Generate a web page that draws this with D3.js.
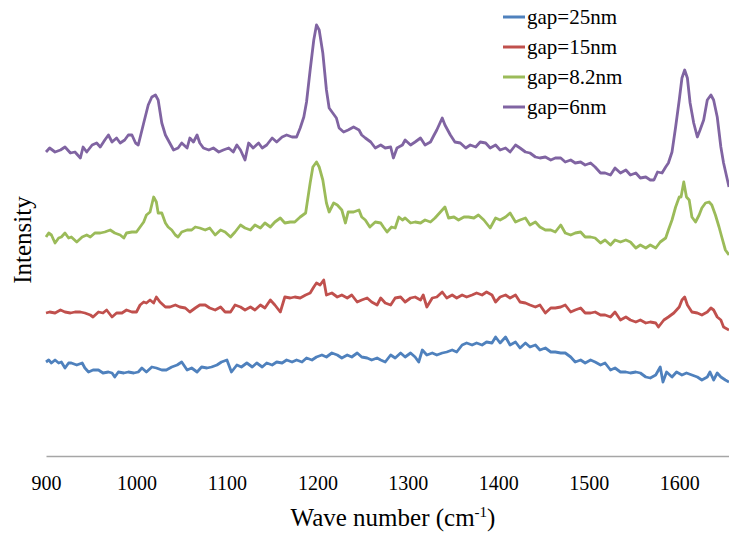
<!DOCTYPE html>
<html lang="en">
<head>
  <meta charset="UTF-8">
  <script src="https://d3js.org/d3.v7.min.js"></script>
  <title>Spectra by gap</title>
  <style>
    body { margin: 0; background: white; }
    text { font-family: "Liberation Serif", "Times New Roman", serif; fill: #000; }
  </style>
</head>
<body>
  <div id="chart"></div>
<script>
  // wave numbers (cm-1) and intensities, one pair of arrays per curve
  var waveBlue = [900, 903, 906, 910, 914, 917, 921, 925, 928, 934, 940, 943, 947, 952, 958, 963, 969, 973, 976, 980, 986, 991, 997, 1002, 1006, 1011, 1017, 1022, 1028, 1033, 1039, 1045, 1050, 1056, 1061, 1067, 1072, 1078, 1083, 1089, 1094, 1100, 1105, 1111, 1116, 1122, 1128, 1133, 1139, 1144, 1150, 1155, 1161, 1166, 1172, 1177, 1183, 1188, 1194, 1199, 1205, 1210, 1216, 1222, 1227, 1233, 1238, 1244, 1249, 1255, 1260, 1266,
    1270, 1275, 1281, 1286, 1292, 1297, 1303, 1308, 1312, 1316, 1321, 1327, 1332, 1338, 1343, 1349, 1354, 1360, 1365, 1371, 1376, 1382, 1387, 1393, 1397, 1402, 1408, 1413, 1419, 1424, 1430, 1435, 1441, 1446, 1452, 1458, 1463, 1469, 1474, 1480, 1485, 1491, 1496, 1502, 1507, 1513, 1518, 1524, 1529, 1535, 1541, 1546, 1552, 1557, 1563, 1568, 1574, 1579, 1582, 1586, 1592, 1597, 1603, 1608, 1614, 1620, 1625, 1631, 1634, 1638, 1642, 1646, 1651, 1655];
  var valBlue = [94, 96, 93, 96, 93, 94, 88, 93, 93, 91, 93, 88, 84, 86, 86, 83, 84, 83, 79, 84, 83, 84, 83, 84, 88, 84, 89, 88, 86, 86, 89, 91, 94, 86, 88, 84, 89, 88, 89, 91, 94, 96, 84, 91, 89, 93, 89, 93, 89, 93, 91, 94, 93, 96, 94, 96, 94, 98, 96, 99, 101, 99, 103, 101, 98, 101, 99, 103, 99, 98, 96, 98,
    96, 94, 101, 98, 103, 99, 103, 99, 94, 106, 101, 103, 101, 103, 104, 106, 104, 111, 113, 111, 113, 111, 114, 113, 119, 113, 119, 111, 114, 108, 113, 109, 111, 106, 108, 104, 104, 103, 103, 99, 94, 96, 93, 96, 94, 91, 93, 86, 88, 84, 84, 83, 84, 83, 79, 78, 81, 89, 74, 84, 79, 84, 81, 83, 81, 79, 76, 79, 84, 76, 83, 79, 76, 74];

  var waveRed = [900, 904, 910, 916, 921, 927, 932, 938, 943, 949, 952, 958, 963, 967, 973, 978, 984, 989, 995, 1000, 1004, 1008, 1011, 1015, 1019, 1022, 1026, 1032, 1037, 1043, 1048, 1054, 1059, 1065, 1070, 1076, 1081, 1087, 1093, 1098, 1104, 1109, 1115, 1120, 1126, 1131, 1137, 1142, 1148, 1153, 1159, 1164, 1170, 1175, 1181, 1187, 1192, 1196, 1199, 1203, 1207, 1210, 1216, 1222, 1227, 1233, 1238, 1244, 1249, 1255, 1260, 1266,
    1270, 1275, 1281, 1286, 1292, 1297, 1303, 1308, 1314, 1317, 1321, 1327, 1332, 1338, 1343, 1349, 1354, 1360, 1365, 1371, 1376, 1382, 1387, 1393, 1397, 1402, 1408, 1413, 1419, 1424, 1430, 1435, 1441, 1446, 1452, 1458, 1463, 1469, 1474, 1480, 1485, 1491, 1496, 1502, 1507, 1513, 1518, 1524, 1529, 1535, 1541, 1546, 1552, 1557, 1563, 1568, 1574, 1577, 1583, 1588, 1594, 1600, 1603, 1606, 1609, 1614, 1620, 1625, 1631, 1635, 1638, 1642, 1646, 1649, 1655];
  var valRed = [143, 144, 143, 146, 144, 143, 144, 144, 143, 141, 139, 144, 143, 146, 139, 143, 143, 146, 144, 144, 151, 154, 153, 156, 153, 159, 154, 149, 149, 151, 149, 148, 144, 148, 151, 151, 148, 146, 149, 144, 144, 151, 149, 146, 149, 146, 151, 148, 156, 151, 144, 159, 158, 159, 158, 161, 163, 169, 173, 171, 176, 161, 163, 159, 161, 158, 161, 154, 156, 158, 154, 151,
    158, 153, 151, 158, 159, 154, 158, 159, 156, 161, 149, 158, 159, 164, 158, 161, 158, 161, 159, 161, 163, 161, 164, 161, 154, 159, 161, 158, 161, 154, 153, 151, 149, 151, 143, 148, 148, 149, 151, 144, 146, 148, 143, 143, 144, 141, 141, 139, 144, 136, 139, 136, 134, 136, 133, 134, 133, 129, 136, 139, 143, 149, 156, 159, 151, 144, 143, 141, 144, 148, 146, 139, 136, 129, 126];

  var waveGreen = [900, 903, 906, 910, 914, 917, 921, 925, 928, 934, 940, 945, 949, 954, 960, 965, 971, 976, 982, 986, 989, 995, 1000, 1004, 1008, 1011, 1015, 1019, 1022, 1024, 1028, 1032, 1035, 1039, 1043, 1046, 1050, 1056, 1061, 1065, 1070, 1076, 1081, 1087, 1093, 1098, 1104, 1109, 1115, 1120, 1126, 1131, 1137, 1142, 1148, 1153, 1159, 1164, 1170, 1175, 1181, 1187,
    1188, 1192, 1195, 1199, 1202, 1206, 1210, 1213, 1218, 1222, 1227, 1231, 1234, 1240, 1246, 1249, 1253, 1258, 1264,
    1270, 1273, 1277, 1282, 1286, 1290, 1294, 1297, 1303, 1308, 1314, 1319, 1325, 1330, 1336, 1341, 1345, 1351, 1356, 1362, 1367, 1373, 1378, 1384, 1391, 1397, 1402, 1408, 1413, 1419, 1424, 1430, 1435, 1441, 1446, 1452, 1458, 1463, 1469, 1474, 1480, 1485, 1491, 1496, 1502, 1507, 1513, 1518, 1524, 1529, 1535, 1541, 1546, 1552, 1557, 1563, 1568, 1574, 1579, 1585, 1588, 1592, 1596, 1600, 1602, 1605, 1608, 1611, 1614, 1618, 1622, 1625, 1629, 1633, 1636, 1640, 1644, 1647, 1651, 1655];
  var valGreen = [219, 223, 221, 213, 218, 219, 223, 218, 219, 214, 219, 221, 219, 223, 223, 224, 226, 223, 221, 218, 223, 224, 224, 229, 234, 241, 244, 259, 254, 243, 243, 233, 229, 226, 221, 219, 224, 226, 226, 229, 228, 226, 228, 221, 226, 224, 219, 224, 231, 228, 226, 231, 228, 233, 229, 234, 238, 233, 234, 234, 239, 243,
    249, 273, 289, 294, 289, 276, 253, 244, 253, 251, 246, 233, 244, 244, 246, 239, 236, 229, 234,
    233, 229, 224, 229, 228, 239, 236, 238, 233, 234, 233, 236, 234, 238, 244, 249, 238, 239, 236, 239, 239, 238, 241, 236, 228, 238, 236, 239, 243, 234, 236, 238, 231, 234, 229, 226, 226, 224, 231, 223, 221, 223, 224, 219, 219, 218, 213, 216, 211, 216, 214, 216, 214, 208, 211, 208, 211, 208, 214, 218, 226, 236, 249, 259, 259, 274, 259, 256, 239, 234, 241, 248, 253, 254, 251, 241, 229, 219, 206, 201];

  var wavePurple = [900, 904, 910, 916, 921, 927, 932, 938, 941, 945, 951, 956, 960, 965, 969, 973, 978, 982, 987, 991, 995, 999, 1002, 1008, 1013, 1017, 1021, 1024, 1028, 1032, 1035, 1041, 1046, 1050, 1056, 1059, 1063, 1067, 1070, 1074, 1080, 1085, 1091, 1096, 1102, 1107, 1111, 1115, 1120, 1124, 1129, 1135, 1139, 1144, 1150, 1155, 1161, 1166, 1172, 1177, 1181, 1185, 1188, 1192, 1196, 1199, 1202, 1206, 1210, 1213, 1217, 1221, 1224, 1229, 1234, 1240, 1246, 1249, 1253, 1259, 1264,
    1270, 1275, 1281, 1284, 1288, 1294, 1297, 1303, 1308, 1314, 1319, 1325, 1329, 1332, 1338, 1341, 1347, 1352, 1358, 1364, 1369, 1375, 1380, 1386, 1391, 1397, 1402, 1408, 1413, 1419, 1424, 1430, 1435, 1441, 1446, 1452, 1458, 1463, 1469, 1474, 1480, 1485, 1491, 1496, 1502, 1507, 1513, 1518, 1524, 1529, 1535, 1541, 1546, 1552, 1557, 1563, 1568, 1572, 1576, 1581, 1585, 1588, 1592, 1596, 1600, 1603, 1606, 1609, 1612, 1616, 1620, 1623, 1627, 1631, 1635, 1638, 1642, 1646, 1649, 1655];
  var valPurple = [304, 308, 304, 306, 309, 303, 304, 298, 309, 304, 311, 313, 309, 316, 321, 314, 318, 313, 316, 321, 321, 313, 311, 333, 351, 359, 361, 356, 333, 321, 316, 306, 308, 313, 308, 318, 314, 321, 313, 308, 306, 308, 304, 306, 308, 304, 311, 306, 296, 313, 308, 313, 308, 311, 318, 314, 319, 321, 319, 319, 328, 339, 354, 386, 416, 431, 426, 403, 366, 348, 343, 338, 328, 324, 326, 329, 326, 321, 318, 314, 308,
    311, 308, 309, 298, 308, 311, 316, 311, 314, 318, 311, 314, 321, 326, 338, 331, 321, 314, 313, 308, 311, 309, 314, 313, 308, 311, 306, 308, 304, 311, 308, 304, 303, 299, 298, 299, 296, 298, 298, 294, 296, 293, 294, 291, 293, 289, 283, 283, 281, 288, 283, 286, 281, 283, 278, 279, 276, 276, 284, 283, 289, 293, 304, 329, 356, 378, 386, 378, 353, 333, 319, 326, 336, 356, 361, 356, 339, 309, 293, 269];

  var seriesNames = ["gap=25nm", "gap=15nm", "gap=8.2nm", "gap=6nm"];
  var seriesColors = ["#4f81bd", "#c0504d", "#9bbb59", "#8064a2"];
  var xTicks = [900, 1000, 1100, 1200, 1300, 1400, 1500, 1600];

  var waves = [waveBlue, waveRed, waveGreen, wavePurple];
  var vals = [valBlue, valRed, valGreen, valPurple];

  var width = 729, height = 533;
  var margin = { top: 16, right: 0, bottom: 77, left: 46 };

  var svg = d3.select("#chart").append("svg")
    .attr("width", width)
    .attr("height", height);

  var x = d3.scaleLinear().domain([900, 1655]).range([margin.left, width - margin.right]);
  var y = d3.scaleLinear().domain([0, 440]).range([height - margin.bottom, margin.top]);

  svg.append("clipPath").attr("id", "plot")
    .append("rect")
    .attr("x", margin.left - 2).attr("y", 0)
    .attr("width", width - margin.left + 2).attr("height", height - margin.bottom);

  // x axis: plain grey line, labels only
  var xAxis = svg.append("g")
    .attr("transform", "translate(0," + y(0) + ")")
    .call(d3.axisBottom(x).tickValues(xTicks).tickSize(0).tickPadding(20).tickFormat(d3.format("d")));
  xAxis.select(".domain").attr("stroke", "#a6a6a6").attr("stroke-width", 1.5);
  xAxis.selectAll("text")
    .style("font-family", "'Liberation Serif', serif")
    .style("font-size", "20px")
    .attr("fill", "#000");

  var line = d3.line()
    .x(d => x(d[0]))
    .y(d => y(d[1]));

  waves.forEach(function (w, i) {
    var pts = w.map((d, j) => [d, vals[i][j]]);
    svg.append("path")
      .datum(pts)
      .attr("clip-path", "url(#plot)")
      .attr("fill", "none")
      .attr("stroke", seriesColors[i])
      .attr("stroke-width", 2.8)
      .attr("stroke-linejoin", "round")
      .attr("d", line);
  });

  // axis titles
  var xt = svg.append("text")
    .attr("x", 393).attr("y", 526)
    .attr("text-anchor", "middle")
    .style("font-size", "25px");
  xt.append("tspan").text("Wave number (cm");
  xt.append("tspan").attr("dy", -9).style("font-size", "15px").text("-1");
  xt.append("tspan").attr("dy", 9).text(")");

  svg.append("text")
    .attr("transform", "translate(31,240) rotate(-90)")
    .attr("text-anchor", "middle")
    .style("font-size", "25px")
    .text("Intensity");

  // legend
  var legend = svg.append("g").attr("transform", "translate(503,17)");
  seriesNames.forEach(function (name, i) {
    var g = legend.append("g").attr("transform", "translate(0," + i * 30 + ")");
    g.append("line")
      .attr("x1", 0).attr("x2", 22).attr("y1", 0).attr("y2", 0)
      .attr("stroke", seriesColors[i]).attr("stroke-width", 3);
    g.append("text")
      .attr("x", 24).attr("y", 7)
      .style("font-size", "21px")
      .text(name);
  });
</script>
</body>
</html>
